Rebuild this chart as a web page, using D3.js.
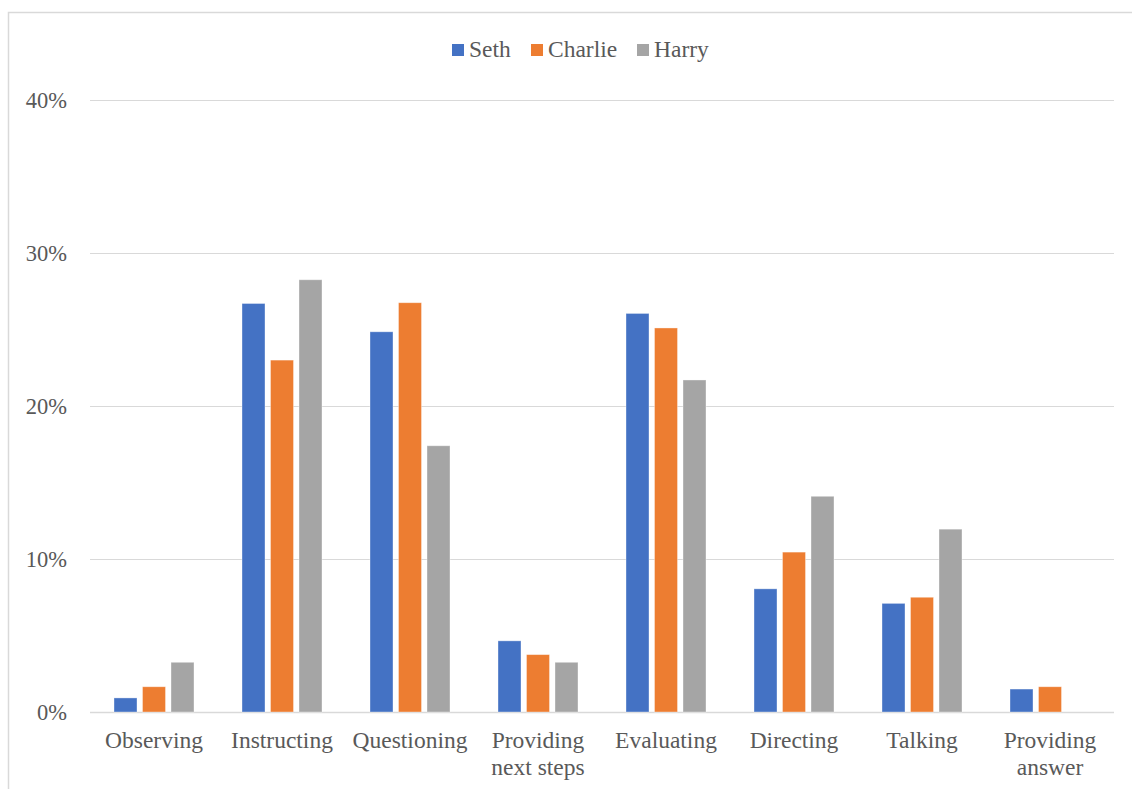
<!DOCTYPE html>
<html>
<head>
<meta charset="utf-8">
<script src="https://cdn.jsdelivr.net/npm/d3@7"></script>
<style>
  html, body { margin: 0; padding: 0; background: #fff; }
  svg { display: block; }
  svg text { font-family: "Liberation Serif", "Times New Roman", serif; fill: #595959; }
</style>
</head>
<body>
<svg id="chart" width="1132" height="789"></svg>
<script>
// Share of each teaching move per teacher
const categories = [["Observing"], ["Instructing"], ["Questioning"], ["Providing", "next steps"],
                    ["Evaluating"], ["Directing"], ["Talking"], ["Providing", "answer"]];
const seriesNames = ["Seth", "Charlie", "Harry"];
const seth    = [0.92, 26.7, 24.85, 4.65, 26.05, 8.05, 7.1, 1.5];
const charlie = [1.65, 23.0, 26.75, 3.75, 25.1, 10.45, 7.5, 1.65];
const harry   = [3.25, 28.25, 17.4, 3.25, 21.7, 14.1, 11.95, 0];
const yTicks  = [0, 10, 20, 30, 40];
const colors  = ["#4472C4", "#ED7D31", "#A5A5A5"];

const values = [seth, charlie, harry];
const serif = '"Liberation Serif", "Times New Roman", serif';
const svg = d3.select("#chart");

// outer chart frame
svg.append("rect")
  .attr("x", 8.5).attr("y", 12.5).attr("width", 1200).attr("height", 900)
  .attr("fill", "none").attr("stroke", "#d9d9d9").attr("stroke-width", 1.5);

const plotLeft = 90, plotRight = 1114, plotTop = 100, plotBottom = 712;

const x = d3.scaleBand().domain(d3.range(categories.length)).range([plotLeft, plotRight]);
const y = d3.scaleLinear().domain([0, 40]).range([plotBottom, plotTop]);

const barW = 23, step = 28.5;

// gridlines
svg.append("g").selectAll("line").data(yTicks).join("line")
  .attr("x1", plotLeft).attr("x2", plotRight)
  .attr("y1", d => Math.round(y(d)) + 0.5).attr("y2", d => Math.round(y(d)) + 0.5)
  .attr("stroke", "#d9d9d9").attr("stroke-width", d => d === 0 ? 1.5 : 1.2);

// y axis labels
const yAxis = d3.axisLeft(y).tickValues(yTicks).tickFormat(d => d + "%").tickSize(0).tickPadding(0);
const gy = svg.append("g").attr("transform", `translate(67,0)`).call(yAxis)
  .attr("font-family", serif).attr("font-size", 22.5);
gy.select(".domain").remove();
gy.selectAll("text").style("font-family", serif).style("font-size", "22.5px")
  .attr("fill", "#595959").attr("dy", "0.33em");

// bars
seriesNames.forEach((name, s) => {
  svg.append("g").selectAll("rect").data(values[s]).join("rect")
    .attr("x", (d, i) => x(i) + x.bandwidth() / 2 + (s - 1) * step - barW / 2)
    .attr("width", barW)
    .attr("y", d => y(d))
    .attr("height", d => y(0) - y(d))
    .attr("fill", colors[s])
    .attr("stroke", "#ffffff").attr("stroke-opacity", 0.45).attr("stroke-width", 0.8);
});

// category labels
const gx = svg.append("g");
categories.forEach((lines, i) => {
  const cx = x(i) + x.bandwidth() / 2;
  const t = gx.append("text")
    .attr("x", cx)
    .attr("y", 748)
    .attr("text-anchor", "middle")
    .style("font-family", serif).style("font-size", "23.5px");
  lines.forEach((ln, k) => {
    t.append("tspan").attr("x", cx).attr("dy", k === 0 ? 0 : 27).text(ln);
  });
});

// legend
const legendX = [452, 531, 637];
const lg = svg.append("g");
seriesNames.forEach((name, s) => {
  lg.append("rect").attr("x", legendX[s]).attr("y", 44).attr("width", 12).attr("height", 12)
    .attr("fill", colors[s]);
  lg.append("text").attr("x", legendX[s] + 17).attr("y", 56.5)
    .style("font-family", serif).style("font-size", "23.5px").text(name);
});
</script>
</body>
</html>
